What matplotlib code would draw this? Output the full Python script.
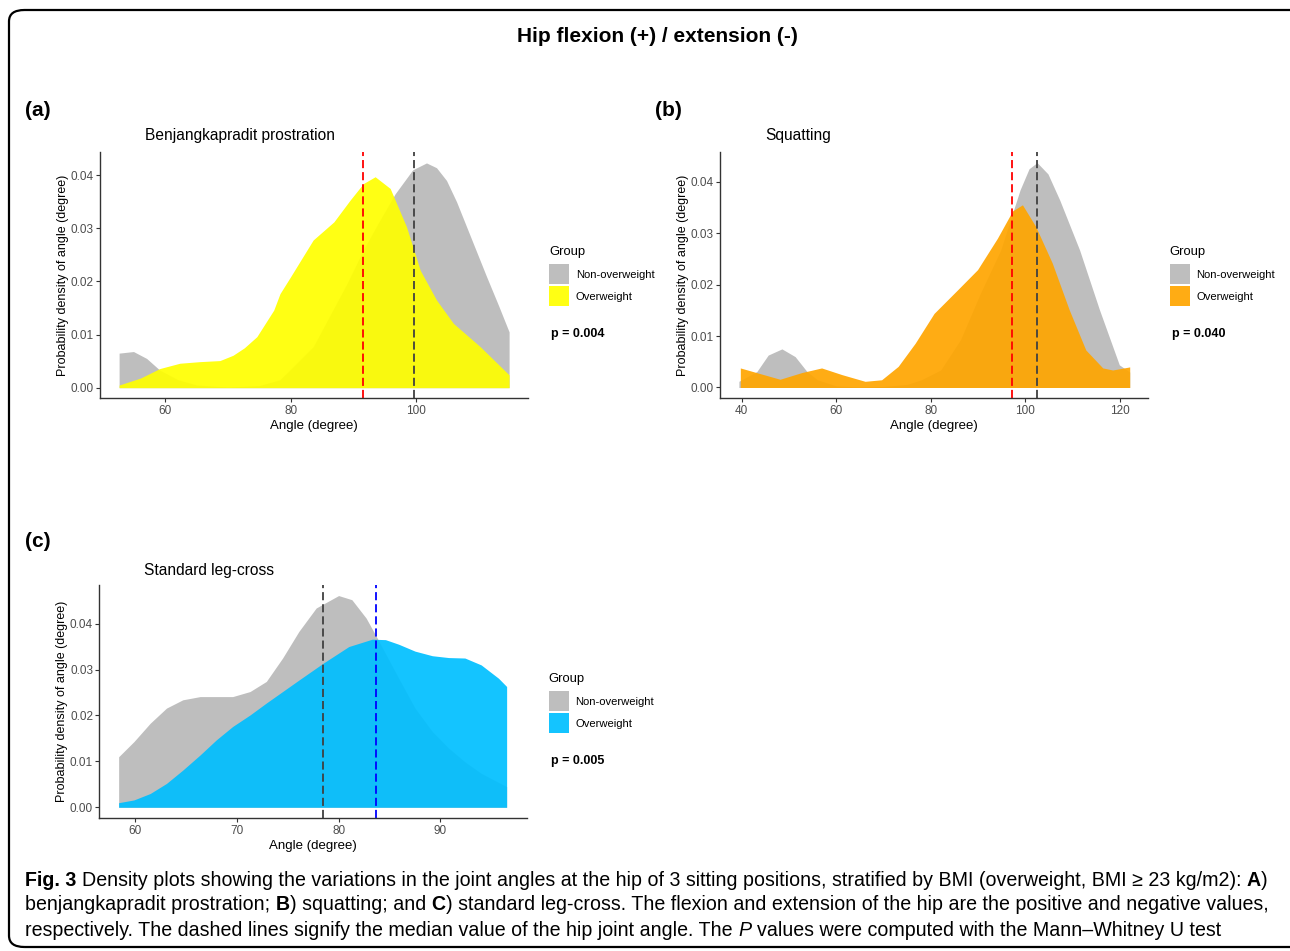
import matplotlib
matplotlib.use("Agg")
import matplotlib.pyplot as plt
from matplotlib.patches import Rectangle, FancyBboxPatch

W, H = 1290, 951
plt.rcParams['font.family'] = ['Liberation Sans', 'DejaVu Sans']

groups = ['Non-overweight', 'Overweight']

# (a) Benjangkapradit prostration
a_x_non = [52.6, 54.9, 57, 59.1, 62, 65, 70, 75, 78.3, 83.6, 89, 91.6, 94, 96.7, 99.5, 101.7, 103.3, 104.9,
           106.5, 108.1, 111.3, 113.2, 114.9]
a_y_non = [0.0065, 0.0068, 0.0055, 0.0033, 0.0015, 0.0005, 0.0001, 0.0004, 0.0015, 0.0077, 0.0196, 0.0259,
           0.031, 0.0365, 0.041, 0.0423, 0.0414, 0.039, 0.035, 0.0303, 0.0209, 0.0155, 0.0105]
a_x_over = [52.6, 56, 59.1, 62.3, 65.5, 68.7, 70.8, 72.6, 74.6, 77.3, 78.3, 80, 83.6, 86.9, 89.5, 91.6, 93.5,
            95.9, 98.5, 100.7, 103.3, 106, 110.3, 114.9]
a_y_over = [0.0005, 0.0018, 0.0036, 0.0046, 0.0049, 0.0051, 0.0061, 0.0075, 0.0096, 0.0146, 0.0177, 0.0209,
            0.0278, 0.0312, 0.0353, 0.0384, 0.0397, 0.0375, 0.0303, 0.0221, 0.0165, 0.0121, 0.0077, 0.0024]
a_median = [99.7, 91.5]

# (b) Squatting
b_x_non = [39.4, 43.2, 45.6, 48.5, 51.3, 53.8, 56, 60, 65, 70, 75, 78, 82.1, 86.3, 90.5, 94.8, 98.9, 100.8,
           102.5, 104.8, 107.3, 111.5, 115.7, 119.9, 122.1]
b_y_non = [0.0012, 0.0031, 0.0063, 0.0075, 0.006, 0.0031, 0.0015, 0.0003, 0.0001, 0.0002, 0.0006, 0.0015,
           0.0034, 0.0093, 0.0183, 0.0267, 0.0384, 0.0425, 0.0437, 0.0415, 0.0364, 0.0267, 0.0151, 0.0044, 0.003]
b_x_over = [39.7, 43.5, 48.1, 52.7, 56.9, 61.2, 66.1, 69.6, 73.1, 76.7, 80.7, 85.7, 89.9, 94.1, 97.3, 99.4,
            102.2, 105.7, 109.3, 112.8, 116.4, 118.5, 122.1]
b_y_over = [0.0038, 0.0028, 0.0016, 0.0029, 0.0038, 0.0025, 0.0012, 0.0015, 0.0041, 0.0086, 0.0144, 0.019,
            0.0229, 0.029, 0.0343, 0.0355, 0.0313, 0.0242, 0.0151, 0.0073, 0.0038, 0.0034, 0.004]
b_median = [102.5, 97.2]

# (c) Standard leg-cross
c_x_non = [58.4, 59.9, 61.5, 63.1, 64.7, 66.4, 69.6, 71.3, 72.9, 74.5, 76.1, 77.8, 80, 81.3, 82.7, 83.8, 85.9,
           87.5, 89.2, 90.8, 92.4, 94, 96.5]
c_y_non = [0.011, 0.0143, 0.0183, 0.0216, 0.0234, 0.0241, 0.0241, 0.0252, 0.0274, 0.0325, 0.0383, 0.0434,
           0.0461, 0.0452, 0.0412, 0.0368, 0.0281, 0.0216, 0.0165, 0.0129, 0.0099, 0.0074, 0.0045]
c_x_over = [58.4, 59.9, 61.5, 63.1, 64.7, 66.4, 68, 69.6, 71.3, 72.9, 74.5, 76.1, 78.5, 81, 83.3, 84.6, 85.9,
            87.5, 89.2, 90.8, 92.4, 94, 95.7, 96.5]
c_y_over = [0.001, 0.0016, 0.003, 0.0052, 0.0081, 0.0114, 0.0147, 0.0176, 0.0201, 0.0227, 0.0252, 0.0277,
            0.0314, 0.035, 0.0366, 0.0365, 0.0355, 0.034, 0.033, 0.0326, 0.0325, 0.031, 0.0281, 0.0263]
c_median = [78.5, 83.7]

fig = plt.figure(figsize=(W / 100, H / 100), dpi=100)


def fx(x):
    return x / W


def fy(y):
    return 1 - y / H


def make_panel(box, xlim, ylim, xticks, xs, ys, fill_col, med, med_cols, title, title_x, title_y,
               leg_x, leg_y, pval, label, lab_xy):
    left, top, right, bottom = box
    ax = fig.add_axes([fx(left), fy(bottom), (right - left) / W, (bottom - top) / H])
    cols = ['#BEBEBE', fill_col]
    alphas = [1.0, 0.92]
    for x, y, c, al, g in zip(xs, ys, cols, alphas, groups):
        ax.fill_between(x, 0, y, color=c, alpha=al, lw=0, label=g)
    for m, mc in zip(med, med_cols):
        ax.axvline(m, color=mc, lw=1.3, ls=(0, (4.5, 2.2)))
    ax.set_xlim(*xlim)
    ax.set_ylim(*ylim)
    ax.set_xticks(xticks)
    ax.set_yticks([0, 0.01, 0.02, 0.03, 0.04])
    ax.set_yticklabels(['0.00', '0.01', '0.02', '0.03', '0.04'])
    for s in ['top', 'right']:
        ax.spines[s].set_visible(False)
    for s in ['left', 'bottom']:
        ax.spines[s].set_color('#333333')
        ax.spines[s].set_linewidth(1.0)
    ax.tick_params(length=3, width=0.8, color='#333333', labelcolor='#4D4D4D', labelsize=8.5, pad=1.5)
    ax.set_xlabel('Angle (degree)', fontsize=9.5)
    ax.set_ylabel('Probability density of angle (degree)', fontsize=9)
    ax.xaxis.set_label_coords(0.5, -22 / (bottom - top))
    ax.yaxis.set_label_coords(-31 / (right - left), 0.5)
    fig.text(fx(title_x), fy(title_y), title, fontsize=11.2, ha='left', va='center')
    fig.text(fx(lab_xy[0]), fy(lab_xy[1]), label, fontsize=15, fontweight='bold', ha='left', va='center')
    # legend
    fig.text(fx(leg_x), fy(leg_y), 'Group', fontsize=9.4, ha='left', va='center')
    for i, (c, al, g) in enumerate(zip(cols, alphas, groups)):
        ky = leg_y + 12 + i * 22
        fig.patches.append(Rectangle((fx(leg_x), fy(ky + 20)), 20 / W, 20 / H, transform=fig.transFigure,
                                     facecolor=c, alpha=al, edgecolor='none'))
        fig.text(fx(leg_x + 26.5), fy(ky + 10.5), g, fontsize=8.1, ha='left', va='center')
    fig.text(fx(leg_x + 2), fy(leg_y + 82), pval, fontsize=9, fontweight='bold', ha='left', va='center')
    return ax


make_panel((99.7, 152.3, 528.2, 398.3), (49.5, 117.95), (-0.002, 0.0443), [60, 80, 100],
           [a_x_non, a_x_over], [a_y_non, a_y_over],
           'yellow', a_median, ['#404040', 'red'], 'Benjangkapradit prostration', 145, 135.7,
           549.2, 252.3, 'p = 0.004', '(a)', (25, 111))
make_panel((720, 152.3, 1147.9, 398.3), (35.4, 125.95), (-0.0021, 0.0457), [40, 60, 80, 100, 120],
           [b_x_non, b_x_over], [b_y_non, b_y_over], 'orange', b_median, ['#404040', 'red'], 'Squatting',
           765.2, 135.7, 1169.6, 252.3, 'p = 0.040', '(b)', (654.5, 111))
make_panel((99.3, 585, 527, 818.3), (56.5, 98.5), (-0.0024, 0.0484), [60, 70, 80, 90],
           [c_x_non, c_x_over], [c_y_non, c_y_over],
           'deepskyblue', c_median, ['#404040', 'blue'], 'Standard leg-cross', 144, 570.7,
           548.6, 679.3, 'p = 0.005', '(c)', (25, 541.5))

fig.text(fx(657), fy(36), 'Hip flexion (+) / extension (-)', fontsize=15, fontweight='bold',
         ha='center', va='center')

# rounded frame
fig.patches.append(FancyBboxPatch((fx(9), fy(947)), (1310 - 9) / W, (947 - 10) / H,
                                  boxstyle='round,pad=0,rounding_size=0.012', transform=fig.transFigure,
                                  facecolor='none', edgecolor='black', lw=1.6, clip_on=False))

# caption with mixed styles
cap_size = 14.1
renderer = fig.canvas.get_renderer()


def text_width(s, **kw):
    t = fig.text(0, 0, s, fontsize=cap_size, **kw)
    w = t.get_window_extent(renderer=renderer).width
    t.remove()
    return w


space_w = text_width('a a') - text_width('aa')

caption = [
    [('Fig. 3', dict(fontweight='bold')),
     ('Density plots showing the variations in the joint angles at the hip of 3 sitting positions, '
      'stratified by BMI (overweight, BMI \u2265 23 kg/m2):', {}),
     ('A', dict(fontweight='bold')), (')', {})],
    [('benjangkapradit prostration;', {}), ('B', dict(fontweight='bold')), (') squatting; and', {}),
     ('C', dict(fontweight='bold')),
     (') standard leg-cross. The flexion and extension of the hip are the positive and negative values,', {})],
    [('respectively. The dashed lines signify the median value of the hip joint angle. The', {}),
     ('P', dict(fontstyle='italic')), ('values were computed with the Mann\u2013Whitney U test', {})],
]
line_y = [880, 905, 930]
for pieces, ly in zip(caption, line_y):
    x = 25
    prev = None
    for s, kw in pieces:
        if prev is not None and not s.startswith(')'):
            x += space_w
        t = fig.text(fx(x), fy(ly), s, fontsize=cap_size, ha='left', va='center', **kw)
        x += t.get_window_extent(renderer=renderer).width
        prev = s

fig.savefig('out.png', dpi=100)
